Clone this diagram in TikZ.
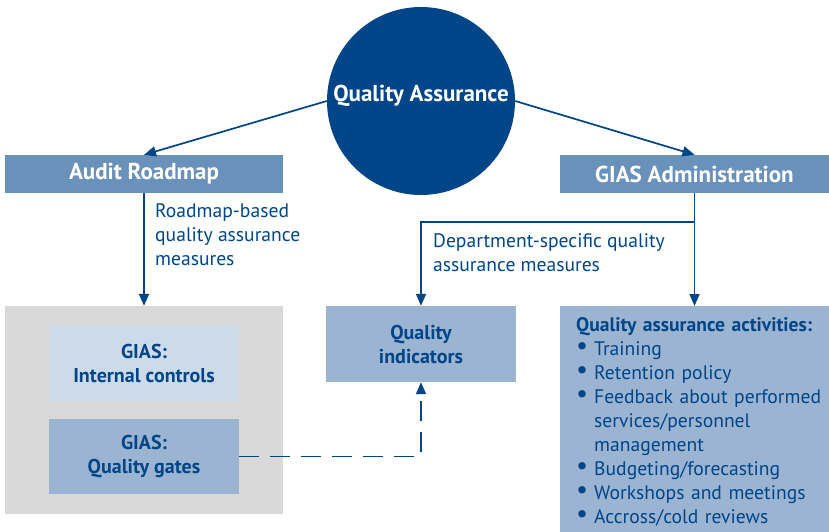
\documentclass[tikz,border=0pt]{standalone}
\usepackage{fontspec}
\setmainfont{PT Sans}
\usetikzlibrary{arrows.meta, calc, positioning}
\definecolor{qaDark}{HTML}{004587}
\definecolor{qaMid}{HTML}{6991BA}
\definecolor{qaSoft}{HTML}{9AB4D2}
\definecolor{qaPale}{HTML}{CDDAE8}
\definecolor{qaGrey}{HTML}{D9D9D9}
\newcommand{\qaitem}[1]{\par\noindent\hangindent=18pt\hbox to 18pt{\raisebox{0.5pt}{\scalebox{1.35}{\textbullet}}\hfil}#1}
\tikzset{
  flow/.style     = {qaDark, line width=1.7pt, -{Triangle[length=12pt, width=10pt]}},
  dashflow/.style = {flow, dash pattern=on 20pt off 11pt},
  headbox/.style  = {rectangle, fill=qaMid, text=white, font=\fontsize{23}{24}\selectfont\bfseries,
                     minimum width=278pt, minimum height=38pt, inner sep=0pt},
  qabox/.style    = {rectangle, fill=qaSoft, text=qaDark, font=\fontsize{20}{24}\selectfont\bfseries,
                     align=center, minimum width=190pt, minimum height=76pt, inner sep=0pt},
  lbl/.style      = {text=qaDark, font=\fontsize{19.6}{24}\selectfont, align=left, inner sep=0pt},
}
\begin{document}
\begin{tikzpicture}[x=1pt, y=-1pt]
  \useasboundingbox (0,0) rectangle (829,532);
  % centre circle
  \node[circle, fill=qaDark, minimum size=188pt, inner sep=0pt] (qa) at (421,101) {};
  \node[text=white, font=\fontsize{23}{24}\selectfont\bfseries] (qatext) at (421,96) {Quality Assurance};
  % top row
  \node[headbox] (roadmap) at (144,174) {Audit Roadmap};
  \node[headbox, minimum width=269pt] (admin) at (694.5,174) {GIAS Administration};
  % lower row
  \node[rectangle, fill=qaGrey, minimum width=278pt, minimum height=208pt] (gias) at (144,410) {};
  \node[qabox, fill=qaPale] (controls) at (144,363) {GIAS:\\Internal controls};
  \node[qabox, minimum height=75pt] (gates) at (144,456.5) {GIAS:\\Quality gates};
  \node[qabox] (indic) at (421,344) {Quality\\indicators};
  \node[rectangle, fill=qaSoft, text=qaDark, anchor=north west, inner xsep=16pt, inner ysep=11pt,
        text width=252pt, font=\fontsize{19.6}{24}\selectfont] (act) at (560,306)
    {\textbf{Quality assurance activities:}
     \qaitem{Training}
     \qaitem{Retention policy}
     \qaitem{Feedback about performed\newline services/personnel\newline management}
     \qaitem{Budgeting/forecasting}
     \qaitem{Workshops and meetings}
     \qaitem{Accross/cold reviews}\par};
  % connectors
  \draw[flow] (qa.west) -- (roadmap.north);
  \draw[flow] (qa.east) -- (admin.north);
  \draw[flow] (roadmap.south) -- (gias.north);
  \draw[flow] (admin.south) -- (admin.south |- act.north);
  \coordinate (split) at ($(admin.south)+(0,29)$);
  \draw[flow] (split) -| (indic.north);
  \draw[dashflow] (gates.east) -| (indic.south);
  \node[lbl, anchor=north west] (rmlbl) at (155,203) {Roadmap-based\\quality assurance\\measures};
  \node[lbl, anchor=north west] (deplbl) at (433,233) {Department-specific quality\\assurance measures};
\end{tikzpicture}
\end{document}
